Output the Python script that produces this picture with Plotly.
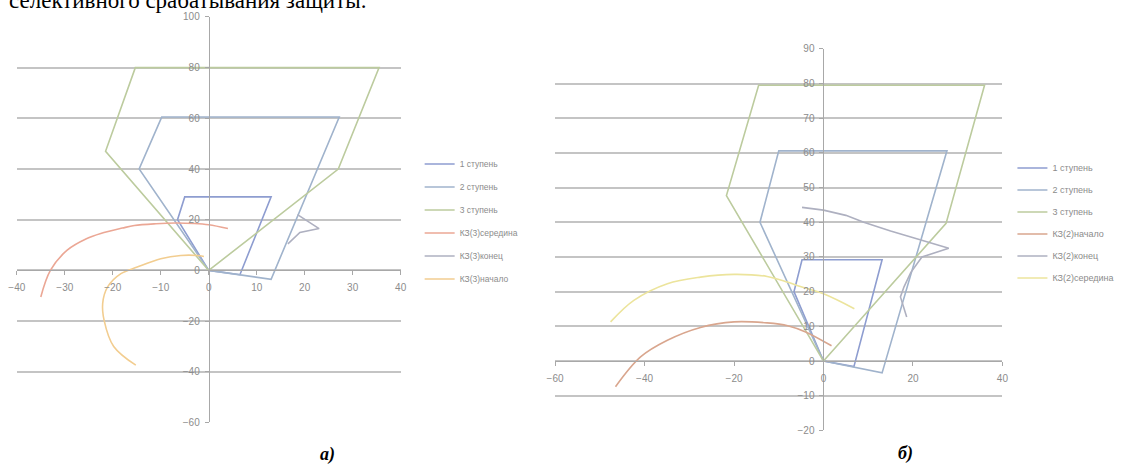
import plotly.graph_objects as go

W, H = 1132, 467

# ---------------- chart a) ----------------
A_ST1_R = [0, -6.5, -5, 13, 6.5, 0]
A_ST1_X = [0, 20, 29, 29, -1.7, 0]
A_ST2_R = [0, -14.5, -9.8, 27.2, 13, 0]
A_ST2_X = [0, 40, 60.5, 60.5, -3.5, 0]
A_ST3_R = [0, -21.5, -15.3, 35.5, 27, 0]
A_ST3_X = [0, 47, 80, 80, 40, 0]
A_KZ_MID_R = [-35, -33, -29.5, -25.5, -22.5, -18, -15.5, -11, -7, -3, 0, 4]
A_KZ_MID_X = [-10.5, 0, 8, 12.5, 14.6, 16.7, 17.7, 18.4, 18.7, 18.5, 18, 16.5]
A_KZ_END_R = [16.5, 19, 23, 18.5]
A_KZ_END_X = [10.5, 15, 16.5, 22]
A_KZ_BEG_R = [-15.2, -19.8, -21.8, -22.1, -21.1, -18.3, -14.9, -10, -5.8, -2.4, -1]
A_KZ_BEG_X = [-37.4, -30, -19.7, -13, -6.6, -1.3, 1.3, 4.6, 5.9, 5.9, 5.5]
A_NAMES = ["1 ступень", "2 ступень", "3 ступень", "КЗ(3)середина", "КЗ(3)конец", "КЗ(3)начало"]
A_XTICKS = [-40, -30, -20, -10, 0, 10, 20, 30, 40]
A_YTICKS = [-60, -40, -20, 0, 20, 40, 60, 80, 100]

# ---------------- chart б) ----------------
B_ST1_R = [0, -6.6, -4.8, 13.1, 6.8, 0]
B_ST1_X = [0, 20, 29.2, 29.2, -1.6, 0]
B_ST2_R = [0, -14.2, -10, 27.6, 13.1, 0]
B_ST2_X = [0, 40, 60.6, 60.6, -3.4, 0]
B_ST3_R = [0, -21.7, -14.5, 36, 27.4, 0]
B_ST3_X = [0, 47.7, 79.5, 79.5, 39.7, 0]
B_KZ_BEG_R = [-46.5, -40.9, -34.9, -27.5, -20, -12.6, -8, -4, 1.8]
B_KZ_BEG_X = [-7.4, 1.2, 6, 9.7, 11.3, 11, 10.2, 8.4, 4.4]
B_KZ_END_R = [-4.8, 0, 5, 9, 15, 20, 28, 22, 19.5, 18, 17.2, 18.6]
B_KZ_END_X = [44.3, 43.5, 42, 40, 37.5, 35.5, 32.5, 30, 25.5, 21.4, 18.5, 12.7]
B_KZ_MID_R = [-47.6, -42.4, -34.9, -27.5, -20, -12.6, -8.1, -5.9, 0, 6.9]
B_KZ_MID_X = [11.3, 17.5, 22.3, 24.2, 25, 24.4, 22.8, 21.8, 19.4, 15.1]
B_NAMES = ["1 ступень", "2 ступень", "3 ступень", "КЗ(2)начало", "КЗ(2)конец", "КЗ(2)середина"]
B_XTICKS = [-60, -40, -20, 0, 20, 40]
B_YTICKS = [-20, -10, 0, 10, 20, 30, 40, 50, 60, 70, 80, 90]

HEADER = "селективного срабатывания защиты."
LABEL_A = "а)"
LABEL_B = "б)"

C_ST1 = "#8e9dd0"
C_ST2 = "#a0b3cc"
C_ST3 = "#bccb9e"
C_RED = "#eba795"
C_GRAY = "#aeb0c0"
C_ORANGE = "#f2cd90"
C_BROWN = "#d9a68e"
C_YELLOW = "#ece49c"


# screen-pixel -> paper fraction (small correction for the rendered page scale)
def sx(p):
    return (p - 7.2) / 0.988 / W


def sy(p):
    return 1 - (p - 4) / 0.98 / H


fig = go.Figure()

a_series = [(A_ST1_R, A_ST1_X, C_ST1, "linear"), (A_ST2_R, A_ST2_X, C_ST2, "linear"),
            (A_ST3_R, A_ST3_X, C_ST3, "linear"), (A_KZ_MID_R, A_KZ_MID_X, C_RED, "spline"),
            (A_KZ_END_R, A_KZ_END_X, C_GRAY, "linear"), (A_KZ_BEG_R, A_KZ_BEG_X, C_ORANGE, "spline")]
for name, (r, x, c, sh) in zip(A_NAMES, a_series):
    fig.add_trace(go.Scatter(x=r, y=x, mode="lines", name=name,
                             line=dict(color=c, width=1.6, shape=sh),
                             xaxis="x", yaxis="y", legend="legend", legendgroup="a" + name))

b_series = [(B_ST1_R, B_ST1_X, C_ST1, "linear"), (B_ST2_R, B_ST2_X, C_ST2, "linear"),
            (B_ST3_R, B_ST3_X, C_ST3, "linear"), (B_KZ_BEG_R, B_KZ_BEG_X, C_BROWN, "spline"),
            (B_KZ_END_R, B_KZ_END_X, C_GRAY, "linear"), (B_KZ_MID_R, B_KZ_MID_X, C_YELLOW, "spline")]
for name, (r, x, c, sh) in zip(B_NAMES, b_series):
    fig.add_trace(go.Scatter(x=r, y=x, mode="lines", name=name,
                             line=dict(color=c, width=1.6, shape=sh),
                             xaxis="x2", yaxis="y2", legend="legend2", legendgroup="b" + name))

ax_dom = [sx(16), sx(400)]
ay_dom = [sy(423), sy(16)]
bx_dom = [sx(554.5), sx(1002)]
by_dom = [sy(431), sy(48)]


def zero_pos(dom, rng):
    return dom[0] + (0 - rng[0]) / (rng[1] - rng[0]) * (dom[1] - dom[0])


a_xr, a_yr = [-40, 40], [-60, 100]
b_xr, b_yr = [-60, 40], [-20, 90]

tickfont = dict(family="Liberation Sans, Arial, sans-serif", size=10, color="#8c8c8c")
axis_common = dict(showline=True, linecolor="#a8a8a8", linewidth=1, zeroline=False,
                   ticks="outside", ticklen=4, tickcolor="#a8a8a8", tickfont=tickfont,
                   fixedrange=True)
grid = dict(showgrid=True, gridcolor="#c4c4c4", gridwidth=1.8)

legfont_a = dict(family="Liberation Sans, Arial, sans-serif", size=8.5, color="#8c8c8c")
legfont_b = dict(family="Liberation Sans, Arial, sans-serif", size=9, color="#8c8c8c")

fig.update_layout(
    width=W, height=H,
    margin=dict(l=0, r=0, t=0, b=0),
    paper_bgcolor="white", plot_bgcolor="white",
    xaxis=dict(domain=ax_dom, range=a_xr, anchor="free", position=zero_pos(ay_dom, a_yr),
               tickvals=A_XTICKS, showgrid=False, ticklabelstandoff=4, **axis_common),
    yaxis=dict(domain=ay_dom, range=a_yr, anchor="free", position=zero_pos(ax_dom, a_xr),
               tickvals=A_YTICKS, ticklabelstandoff=3, **grid, **axis_common),
    xaxis2=dict(domain=bx_dom, range=b_xr, anchor="free", position=zero_pos(by_dom, b_yr),
                tickvals=B_XTICKS, showgrid=False, ticklabelstandoff=4, **axis_common),
    yaxis2=dict(domain=by_dom, range=b_yr, anchor="free", position=zero_pos(bx_dom, b_xr),
                tickvals=B_YTICKS, ticklabelstandoff=3, **grid, **axis_common),
    legend=dict(x=sx(419), y=sy(149), xanchor="left", yanchor="top", font=legfont_a,
                bgcolor="rgba(0,0,0,0)", tracegroupgap=4, itemwidth=30),
    legend2=dict(x=sx(1012), y=sy(153), xanchor="left", yanchor="top", font=legfont_b,
                 bgcolor="rgba(0,0,0,0)", tracegroupgap=3, itemwidth=30),
    showlegend=True,
)

fig.add_annotation(text=HEADER, xref="paper", yref="paper", x=sx(367), y=1 - 10 / H,
                   xanchor="right", yanchor="bottom", showarrow=False,
                   font=dict(family="Liberation Serif, Times New Roman, serif", size=23, color="black"))
fig.add_annotation(text="<b><i>" + LABEL_A + "</i></b>", xref="paper", yref="paper",
                   x=sx(327), y=sy(455), xanchor="center", yanchor="middle", showarrow=False,
                   font=dict(family="Liberation Serif, Times New Roman, serif", size=18, color="black"))
fig.add_annotation(text="<b><i>" + LABEL_B + "</i></b>", xref="paper", yref="paper",
                   x=sx(905), y=sy(454), xanchor="center", yanchor="middle", showarrow=False,
                   font=dict(family="Liberation Serif, Times New Roman, serif", size=18, color="black"))

fig.write_html("out.html")
